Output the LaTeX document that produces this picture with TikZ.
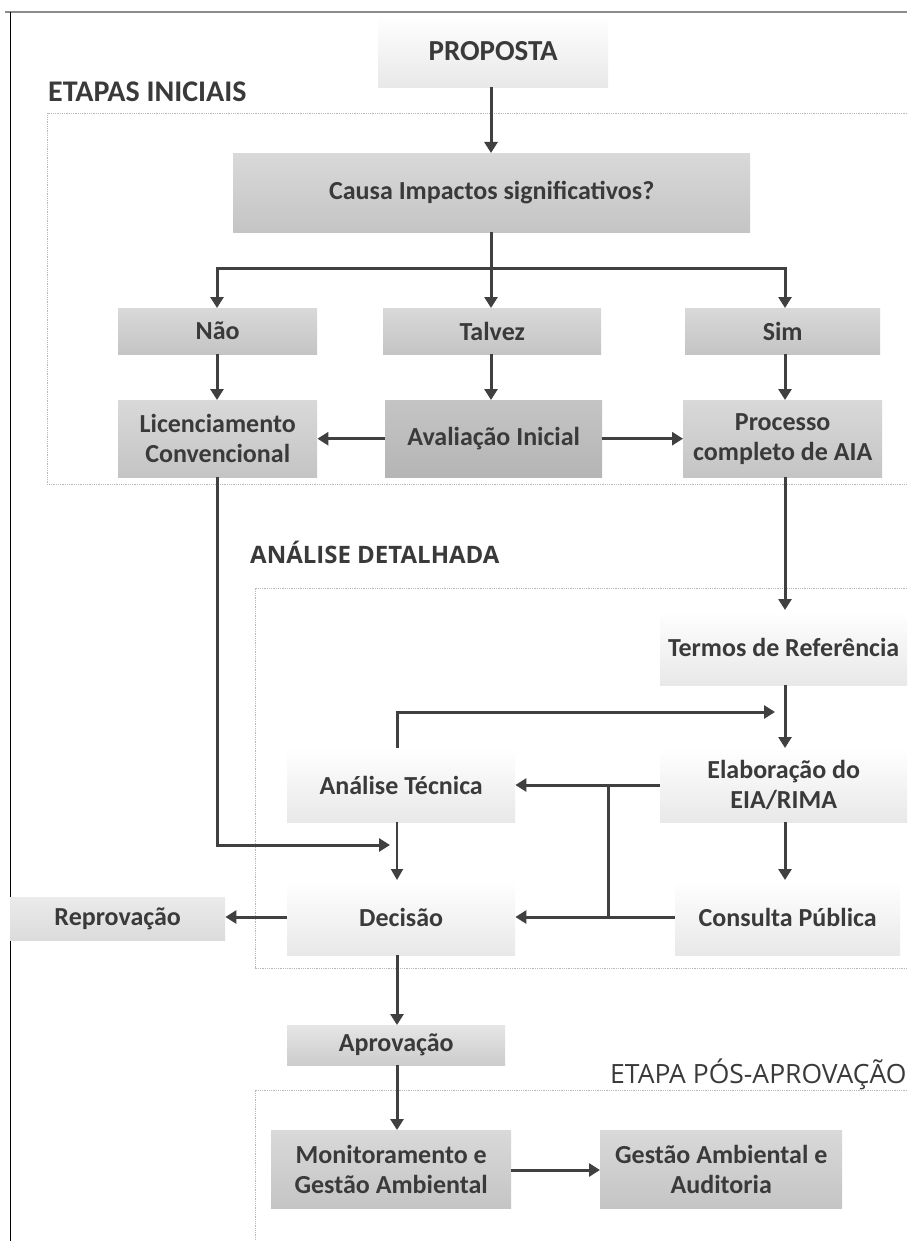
\documentclass[tikz,border=0pt]{standalone}
\usepackage{fontspec}
\setmainfont{Carlito}
\newfontfamily\osans{Open Sans}
\usetikzlibrary{arrows.meta}
\definecolor{txt}{HTML}{3A3A3A}
\definecolor{arr}{HTML}{404040}
\definecolor{frame}{HTML}{B8B8B8}
\tikzset{
  boxfont/.style={font=\bfseries\fontsize{26}{30}\selectfont},
  lightbox/.style={draw=none, top color=white, bottom color=black!9, text=txt, boxfont, align=center, inner sep=0pt, anchor=north west},
  midbox/.style={draw=none, top color=black!15, bottom color=black!23, text=txt, boxfont, align=center, inner sep=0pt, anchor=north west},
  darkbox/.style={midbox, top color=black!23, bottom color=black!29},
  flow/.style={draw=arr, line width=3pt, -{Triangle[width=13pt,length=11pt]}},
  thinflow/.style={draw=arr, line width=2pt, -{Triangle[width=12pt,length=11pt]}},
  plain/.style={draw=arr, line width=3pt},
  region/.style={draw=frame, densely dotted, line width=0.8pt},
  heading/.style={text=txt, anchor=base west, inner sep=0pt}
}
\newcommand{\bx}[6]{\node[#1, minimum width=#4pt, minimum height=#5pt] (#2) at (#3) {#6};}
\begin{document}
\begin{tikzpicture}[x=1pt,y=-1pt]
\useasboundingbox[fill=white] (0,0) rectangle (907,1241);
% page frame
\draw[black!45, line width=2.5pt] (5,12) -- (907,12);
\draw[black, line width=1pt] (10,12) -- (10,1241);
% regions
\draw[region] (907,113) -- (47,113) -- (47,484) -- (907,484);
\draw[region] (907,588) -- (255,588) -- (255,968) -- (907,968);
\draw[region] (907,1090) -- (255,1090) -- (255,1241);
\node[heading, font=\bfseries\fontsize{30}{34}\selectfont] (h1) at (48,102) {ETAPAS INICIAIS};
\node[heading, font=\osans\bfseries\fontsize{24}{28}\selectfont] (h2) at (250,563) {ANÁLISE DETALHADA};
\node[heading, font=\osans\fontsize{26.5}{30}\selectfont] (h3) at (610,1083) {ETAPA PÓS-APROVAÇÃO};
% boxes
\bx{lightbox, font=\bfseries\fontsize{29}{32}\selectfont}{prop}{378,15}{230}{72}{PROPOSTA}
\bx{midbox}{causa}{233,153}{517}{79}{Causa Impactos significativos?}
\bx{midbox}{nao}{118,308}{199}{46}{Não}
\bx{midbox}{talvez}{383,308}{218}{46}{Talvez}
\bx{midbox}{sim}{685,308}{195}{46}{Sim}
\bx{midbox}{lic}{118,400}{199}{77}{Licenciamento\\Convencional}
\bx{darkbox}{aval}{385,400}{217}{77}{Avaliação Inicial}
\bx{midbox}{proc}{683,400}{199}{77}{Processo\\completo de AIA}
\bx{lightbox}{termos}{660,610}{247}{75}{Termos de Referência}
\bx{lightbox}{elab}{660,748}{247}{74}{Elaboração do\\EIA/RIMA}
\bx{lightbox}{tec}{287,748}{228}{74}{Análise Técnica}
\bx{lightbox}{cons}{675,880}{225}{75}{Consulta Pública}
\bx{lightbox}{dec}{287,880}{228}{75}{Decisão}
\bx{midbox, top color=black!8, bottom color=black!14}{rep}{10,897}{215}{43}{Reprovação}
\bx{midbox, top color=black!10, bottom color=black!20}{aprov}{287,1025}{218}{40}{Aprovação}
\bx{midbox}{mon}{271,1130}{240}{78}{Monitoramento e\\Gestão Ambiental}
\bx{midbox}{gest}{600,1130}{242}{78}{Gestão Ambiental e\\Auditoria}
% coordinates
\coordinate (split) at (491,268);
\coordinate (bus) at (608,785);
\coordinate (busb) at (608,917);
\coordinate (tecup) at (397,712);
\coordinate (termel) at (785,712);
\coordinate (licdn) at (217,845);
\coordinate (decin) at (397,845);
% connectors
\draw[flow] (prop.south -| 491,0) -- (causa.north -| 491,0);
\draw[plain] (causa.south -| 491,0) -- (split);
\draw[flow] (split) -- (talvez.north -| split);
\draw[flow] (split) -| (nao.north -| 217,0);
\draw[flow] (split) -| (sim.north -| 785,0);
\draw[flow] (nao.south -| 217,0) -- (lic.north -| 217,0);
\draw[flow] (talvez.south -| 491,0) -- (aval.north -| 491,0);
\draw[flow] (sim.south -| 785,0) -- (proc.north -| 785,0);
\draw[flow] (aval.west) -- (lic.east);
\draw[flow] (aval.east) -- (proc.east -| proc.west);
\draw[flow] (proc.south -| 785,0) -- (termos.north -| 785,0);
\draw[flow] (termos.south -| 785,0) -- (elab.north -| 785,0);
\draw[flow] (tec.north -| tecup) -- (tecup) -- ([xshift=-10pt]termel);
\draw[flow] (elab.west |- bus) -- (tec.east |- bus);
\draw[plain] (bus) -- (busb);
\draw[flow] (elab.south -| 785,0) -- (cons.north -| 785,0);
\draw[flow] (cons.west |- busb) -- (dec.east |- busb);
\draw[thinflow] (tec.south -| 397,0) -- (dec.north -| 397,0);
\draw[flow] (lic.south -| licdn) -- (licdn) -- ([xshift=-7pt]decin);
\draw[flow] (dec.west |- busb) -- (rep.east |- busb);
\draw[flow] (dec.south -| 397,0) -- (aprov.north -| 397,0);
\draw[flow] (aprov.south -| 397,0) -- (mon.north -| 397,0);
\draw[flow] (mon.east |- 0,1170) -- (gest.west |- 0,1170);
\end{tikzpicture}
\end{document}
